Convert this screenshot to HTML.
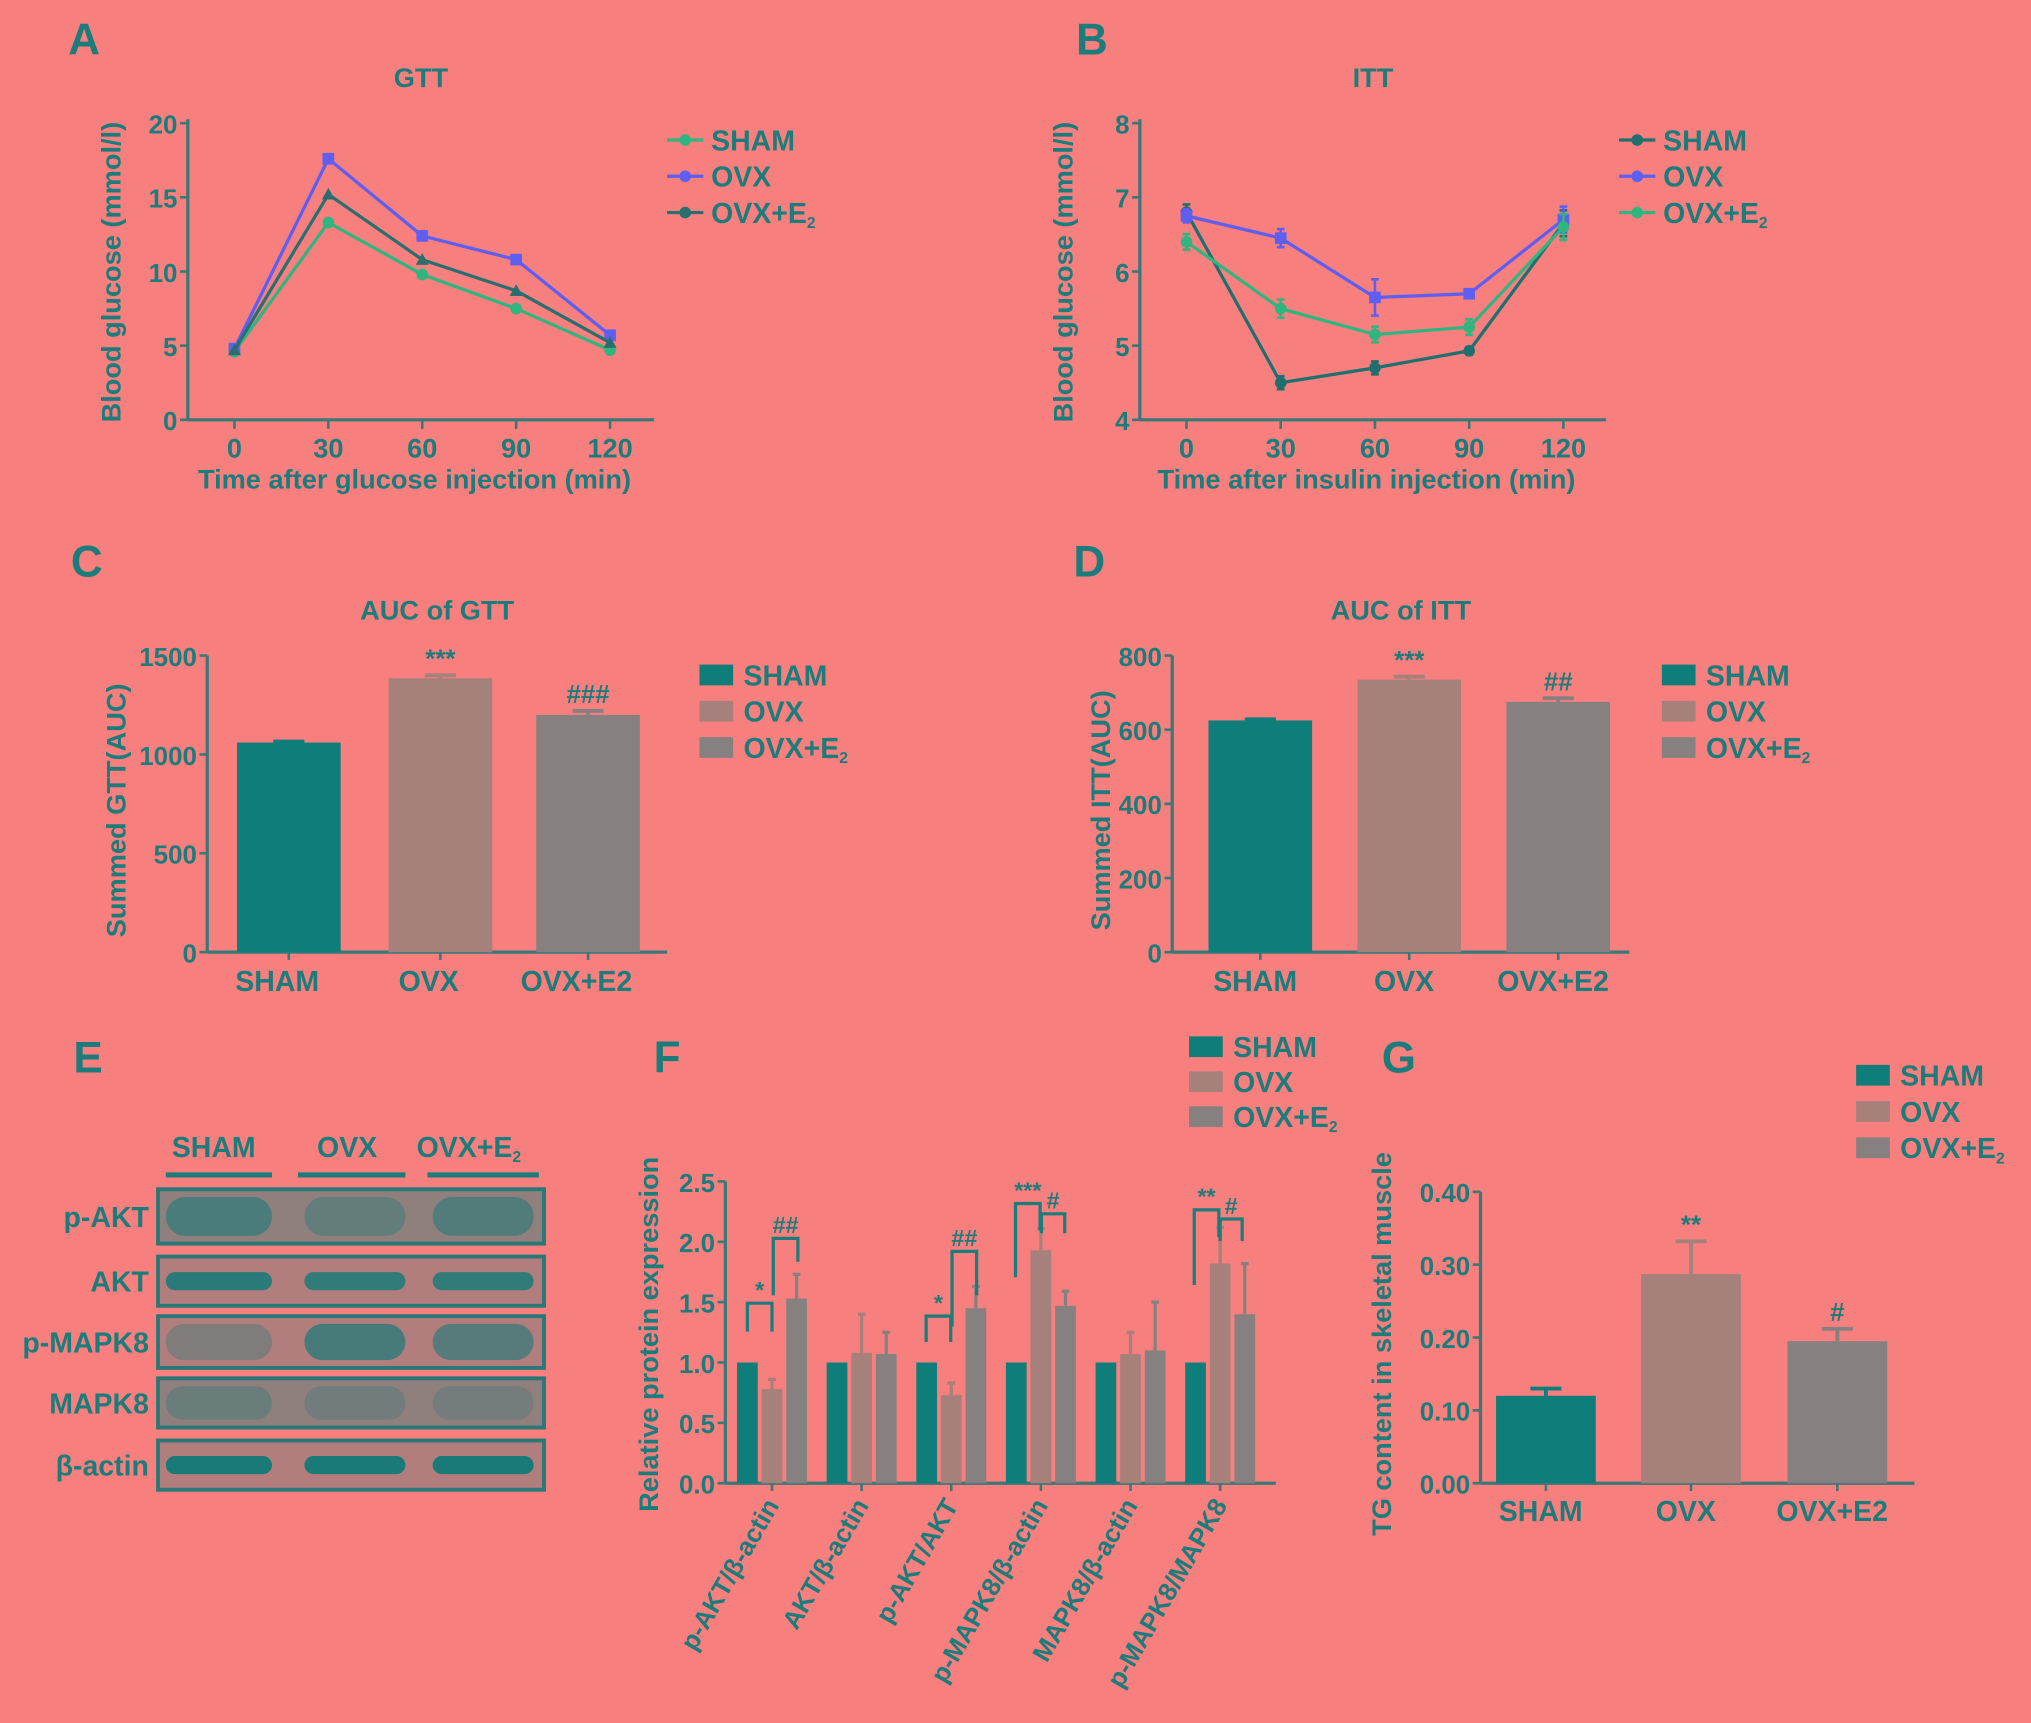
<!DOCTYPE html>
<html><head><meta charset="utf-8"><style>
html,body{margin:0;padding:0;background:#f77f7e;}
svg{display:block;font-family:"Liberation Sans",Arial,sans-serif;font-weight:bold;}
</style></head><body>
<svg id="fig" width="2031" height="1723" viewBox="0 0 1568 1330" xmlns="http://www.w3.org/2000/svg">
<rect x="0" y="0" width="1568" height="1330" fill="#f77f7e"/>
<g id="root"></g>
</svg>
<script>
// ---- Data ----
const timeCats = [0, 30, 60, 90, 120];
const gttSham = [4.6, 13.3, 9.8, 7.5, 4.7];
const gttOvx = [4.8, 17.6, 12.4, 10.8, 5.7];
const gttE2 = [4.7, 15.2, 10.8, 8.7, 5.2];
const gttTicks = [0, 5, 10, 15, 20];
const ittSham = [6.8, 4.5, 4.7, 4.93, 6.65];
const ittOvx = [6.75, 6.45, 5.65, 5.7, 6.7];
const ittE2 = [6.4, 5.5, 5.15, 5.25, 6.6];
const ittTicks = [4, 5, 6, 7, 8];
const groupCats = ["SHAM", "OVX", "OVX+E2"];
const aucGtt = [1060, 1385, 1200];
const aucGttErr = [5, 15, 20];
const aucGttTicks = [0, 500, 1000, 1500];
const aucGttSig = ["", "***", "###"];
const aucItt = [625, 735, 675];
const aucIttErr = [3, 8, 10];
const aucIttTicks = [0, 200, 400, 600, 800];
const aucIttSig = ["", "***", "##"];
const proteinCats = ["p-AKT/β-actin", "AKT/β-actin", "p-AKT/AKT", "p-MAPK8/β-actin", "MAPK8/β-actin", "p-MAPK8/MAPK8"];
const protSham = [1, 1, 1, 1, 1, 1];
const protOvx = [0.78, 1.08, 0.73, 1.93, 1.07, 1.82];
const protE2 = [1.53, 1.07, 1.45, 1.47, 1.1, 1.4];
const protOvxErr = [0.08, 0.32, 0.1, 0.18, 0.18, 0.3];
const protE2Err = [0.2, 0.18, 0.18, 0.12, 0.4, 0.42];
const protTicks = [0, 0.5, 1.0, 1.5, 2.0, 2.5];
const tgVals = [0.12, 0.287, 0.195];
const tgErr = [0.01, 0.045, 0.017];
const tgTicks = [0, 0.10, 0.20, 0.30, 0.40];
const tgSig = ["", "**", "#"];

const NS = "http://www.w3.org/2000/svg";
const TEAL = "#1c7c7b", AX = "#3a7878";
const C_SHAM = "#0f7d7a", C_OVX = "#a6807b", C_E2 = "#878080";
const root = document.getElementById("root");
function el(tag, attrs, parent) {
  const e = document.createElementNS(NS, tag);
  for (const k in attrs) e.setAttribute(k, attrs[k]);
  (parent || root).appendChild(e);
  return e;
}
function txt(s, x, y, size, opts, parent) {
  opts = opts || {};
  const t = el("text", {x: x, y: y, "font-size": size, fill: opts.fill || TEAL, "text-anchor": opts.anchor || "middle"}, parent);
  if (opts.rot) t.setAttribute("transform", "rotate(" + opts.rot + " " + x + " " + y + ")");
  if (opts.sub) { t.textContent = s; const ts = el("tspan", {"font-size": size * 0.55, dy: 4}, t); ts.textContent = opts.sub; }
  else t.textContent = s;
  return t;
}
function lin(d0, d1, r0, r1) { return v => r0 + (v - d0) * (r1 - r0) / (d1 - d0); }
function line(x1, y1, x2, y2, c, w, parent) { return el("line", {x1, y1, x2, y2, stroke: c || AX, "stroke-width": w || 2.5}, parent); }

// panel letters
[["A",65,42],["B",843,42],["C",67,445],["D",841,445],["E",68,828],["F",515,828],["G",1080,828]].forEach(p=>{
  const t = txt(p[0], p[1], p[2], 34, {});
  
  
});

function yAxis(g, x, sy, ticks, fmt, top, bottom) {
  line(x, top, x, bottom, AX, 2.5, g);
  ticks.forEach(v => { line(x - 6, sy(v), x, sy(v), AX, 2, g); txt(fmt(v), x - 8, sy(v) + 8, 20, {anchor: "end"}, g); });
}
function legend(g, x, y0, dy, items, type) {
  items.forEach((it, i) => {
    const y = y0 + i * dy;
    const lg = el("g", {}, g);
    
    
    if (type === "line") { line(x, y, x + 28, y, it[1], 2.5, lg); el("circle", {cx: x + 14, cy: y, r: 4.5, fill: it[1]}, lg); }
    else el("rect", {x: x, y: y - 8, width: 26, height: 16, fill: it[1]}, lg);
    txt(it[0], x + 34, y + 8, 22, {anchor: "start", sub: it[2]}, lg);
  });
}

// ---- Line panels ----
function linePanel(name, ax, xmax, xpos, ticks, yTop, ySeries, colors, markers, title, xtitle, legX, legItems, errs) {
  const g = el("g", {});  
  const sx = lin(0, 120, xpos[0], xpos[1]);
  const sy = lin(ticks[0], ticks[ticks.length - 1], 324, 95);
  yAxis(g, ax, sy, ticks, v => String(v), 92, 324);
  line(ax, 324, xmax, 324, AX, 2.5, g);
  timeCats.forEach(t => { line(sx(t), 324, sx(t), 331, AX, 2, g); txt(String(t), sx(t), 353, 21, {}, g); });
  txt(title, (ax + xmax) / 2, 67, 21, {}, g);
  txt(xtitle, (ax + xmax) / 2 - 5, 377, 21, {}, g);
  txt("Blood glucose (mmol/l)", ax - 52, 210, 21, {rot: -90}, g);
  ySeries.forEach((s, i) => {
    const pts = s.map((v, j) => sx(timeCats[j]) + "," + sy(v)).join(" ");
    const pl = el("polyline", {points: pts, fill: "none", stroke: colors[i], "stroke-width": 2.5}, g);
    
    
    s.forEach((v, j) => {
      const x = sx(timeCats[j]), y = sy(v);
      if (errs) { const e = errs[i][j]; line(x, y - e, x, y + e, colors[i], 2, g); line(x - 3, y - e, x + 3, y - e, colors[i], 2, g); line(x - 3, y + e, x + 3, y + e, colors[i], 2, g); }
      let m;
      if (markers[i] === "s") m = el("rect", {x: x - 4.5, y: y - 4.5, width: 9, height: 9, fill: colors[i]}, g);
      else if (markers[i] === "t") m = el("polygon", {points: (x) + "," + (y - 5) + " " + (x - 5) + "," + (y + 4) + " " + (x + 5) + "," + (y + 4), fill: colors[i]}, g);
      else m = el("circle", {cx: x, cy: y, r: 4.5, fill: colors[i]}, g);
      
      
    });
  });
  legend(g, legX, 108, 28, legItems, "line");
}
linePanel("gtt-chart", 145, 505, [181, 471], gttTicks, 95, [gttSham, gttOvx, gttE2], ["#2fb57f", "#5e5ef0", "#2a6f6f"], ["c", "s", "t"], "GTT", "Time after glucose injection (min)", 515,
  [["SHAM", "#2fb57f"], ["OVX", "#5e5ef0"], ["OVX+E", "#2a6f6f", "2"]], null);
linePanel("itt-chart", 880, 1240, [916, 1207], ittTicks, 95, [ittSham, ittOvx, ittE2], ["#1f6f6f", "#5e5ef0", "#2fb57f"], ["c", "s", "c"], "ITT", "Time after insulin injection (min)", 1250,
  [["SHAM", "#1f6f6f"], ["OVX", "#5e5ef0"], ["OVX+E", "#2fb57f", "2"]],
  [[6, 5, 5, 3, 10], [5, 7, 14, 3, 10], [6, 7, 6, 6, 10]]);

// ---- Bar panels (C, D, G) ----
function barPanel(name, ax, xEnd, y0, yTopPx, ticks, fmt, vals, errs, sigs, barX, bw, title, ytitle, ytitleX, legX, legY, xlabY, labShift) {
  const g = el("g", {});  
  const sy = lin(ticks[0], ticks[ticks.length - 1], y0, yTopPx);
  yAxis(g, ax, sy, ticks, fmt, yTopPx, y0);
  line(ax, y0, xEnd, y0, AX, 2.5, g);
  const cols = [C_SHAM, C_OVX, C_E2];
  vals.forEach((v, i) => {
    const x = barX[i];
    const r = el("rect", {x: x, y: sy(v), width: bw, height: y0 - sy(v), fill: cols[i]}, g);
    
    
    const ey = sy(v + errs[i]);
    line(x + bw / 2, sy(v), x + bw / 2, ey, cols[i], 3, g);
    line(x + bw / 2 - 12, ey, x + bw / 2 + 12, ey, cols[i], 3, g);
    if (sigs[i]) txt(sigs[i], x + bw / 2, ey - 6, 20, {}, g);
    line(x + bw / 2, y0, x + bw / 2, y0 + 6, AX, 2, g);
    txt(groupCats[i], x + bw / 2 + labShift, xlabY, 22, {}, g);
  });
  if (title) txt(title, (ax + xEnd) / 2, 478, 21, {}, g);
  txt(ytitle, ytitleX, (y0 + yTopPx) / 2 + 5, 21, {rot: -90}, g);
  legend(g, legX, legY, 28, [["SHAM", C_SHAM], ["OVX", C_OVX], ["OVX+E", C_E2, "2"]], "rect");
}
barPanel("auc-gtt-chart", 160, 515, 735, 506, aucGttTicks, v => String(v), aucGtt, aucGttErr, aucGttSig, [183, 300, 414], 80, "AUC of GTT", "Summed GTT(AUC)", 97, 540, 521, 765, -9);
barPanel("auc-itt-chart", 905, 1258, 735, 506, aucIttTicks, v => String(v), aucItt, aucIttErr, aucIttSig, [933, 1048, 1163], 80, "AUC of ITT", "Summed ITT(AUC)", 857, 1283, 521, 765, -4);
barPanel("tg-chart", 1143, 1478, 1145, 920, tgTicks, v => v.toFixed(2), tgVals, tgErr, tgSig, [1155, 1267, 1380], 77, null, "TG content in skeletal muscle", 1074, 1433, 830, 1174, -4);

// ---- Western blot (E) ----
(function () {
  const g = el("g", {});  
  const lanes = [["SHAM", 165, 128, 210], ["OVX", 268, 230, 313], ["OVX+E", 362, 330, 416]];
  lanes.forEach((l, i) => { txt(l[0], l[1], 893, 22, {sub: i === 2 ? "2" : null}, g); line(l[2], 907, l[3], 907, TEAL, 4, g); });
  const rows = [["p-AKT", 918, 42, [0.8, 0.5, 0.7]], ["AKT", 970, 38, [0.9, 0.85, 0.85]], ["p-MAPK8", 1016, 40, [0.45, 0.95, 0.8]], ["MAPK8", 1064, 38, [0.4, 0.35, 0.3]], ["β-actin", 1112, 38, [1, 1, 1]]];
  rows.forEach(r => {
    const rg = el("g", {}, g);
    
    
    el("rect", {x: 122, y: r[1], width: 298, height: r[2], fill: (r[0] === "MAPK8" || r[0] === "p-AKT") ? "#8f7f7d" : "#b27e7d", stroke: "#2a7777", "stroke-width": 3}, rg);
    const thin = (r[0] === "AKT" || r[0] === "β-actin");
    [[128, 82], [235, 78], [334, 78]].forEach((b, i) => {
      const h = thin ? 14 : r[2] - 12;
      el("rect", {x: b[0], y: r[1] + r[2] / 2 - h / 2, width: b[1], height: h, rx: h / 2, fill: "#1a7a78", opacity: r[3][i] * (thin ? 1 : 0.75)}, rg);
    });
    txt(r[0], 115, r[1] + r[2] / 2 + 8, 22, {anchor: "end"}, rg);
  });
})();

// ---- Protein expression (F) ----
(function () {
  const g = el("g", {});  
  const ax = 560, y0 = 1145, sy = lin(0, 2.5, y0, 912);
  yAxis(g, ax, sy, protTicks, v => v.toFixed(1), 912, y0);
  line(ax, y0, 985, y0, AX, 2.5, g);
  txt("Relative protein expression", 508, 1030, 21, {rot: -90}, g);
  const bw = 16;
  const sers = [[protSham, null, C_SHAM, "sham"], [protOvx, protOvxErr, C_OVX, "ovx"], [protE2, protE2Err, C_E2, "ovx-e2"]];
  proteinCats.forEach((c, i) => {
    const gx = 569 + i * 69.2;
    sers.forEach((s, k) => {
      const x = gx + k * 19, v = s[0][i];
      const r = el("rect", {x: x, y: sy(v), width: bw, height: y0 - sy(v), fill: s[2]}, g);
      
      
      if (s[1]) { const ey = sy(v + s[1][i]); line(x + bw / 2, sy(v), x + bw / 2, ey, s[2], 2.5, g); line(x + bw / 2 - 3, ey, x + bw / 2 + 3, ey, s[2], 2.5, g); }
    });
    const cx = gx + 19 + bw / 2;
    line(cx, y0, cx, y0 + 6, AX, 2, g);
    txt(c, cx + 6, y0 + 17, 20, {anchor: "end", rot: -60}, g);
  });
  function br(x1, x2, yb, l1, l2, lab) { el("path", {d: "M" + x1 + "," + l1 + " V" + yb + " H" + x2 + " V" + l2, fill: "none", stroke: TEAL, "stroke-width": 2.5}, g); txt(lab, (x1 + x2) / 2, yb - 4, 18, {}, g); }
  br(577, 596, 1006, 1028, 1028, "*"); br(597, 616, 956, 1000, 974, "##");
  br(715, 734, 1016, 1036, 1036, "*"); br(735, 754, 966, 1024, 1000, "##");
  br(784, 803, 929, 986, 950, "***"); br(804, 822, 937, 952, 952, "#");
  br(922, 941, 934, 992, 955, "**"); br(942, 959, 941, 958, 958, "#");
  legend(g, 918, 808, 27, [["SHAM", C_SHAM], ["OVX", C_OVX], ["OVX+E", C_E2, "2"]], "rect");
})();
</script>
</body></html>
